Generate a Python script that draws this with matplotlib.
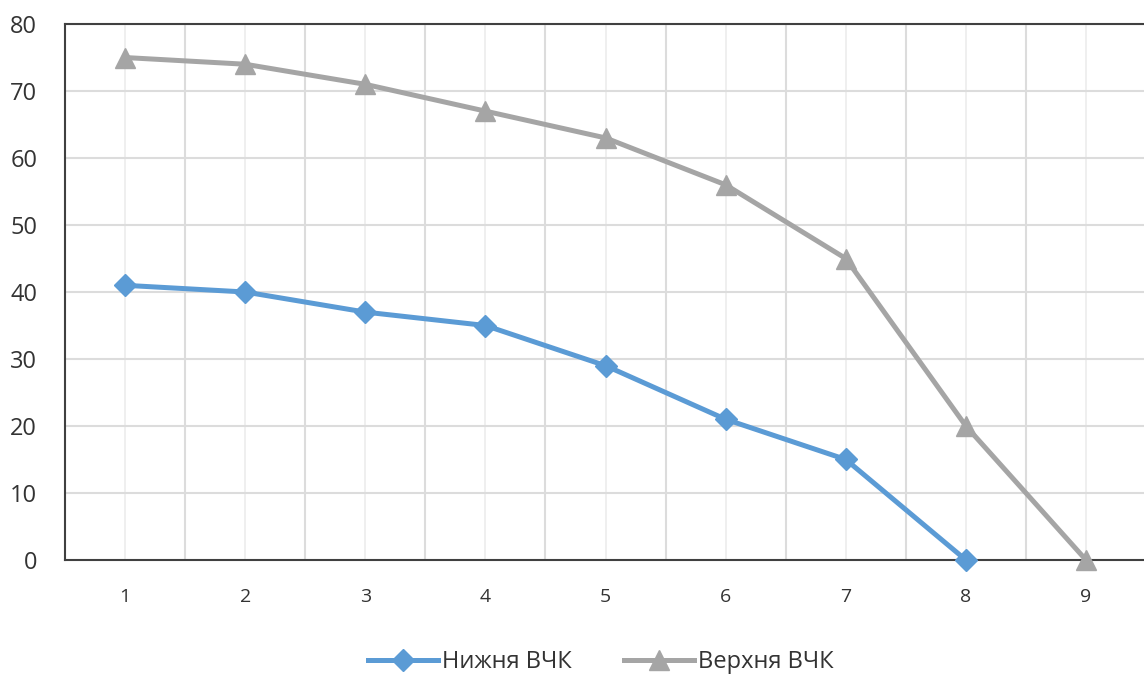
import matplotlib.pyplot as plt
import numpy as np

plt.rcParams['font.family'] = ['Open Sans', 'DejaVu Sans']

# дані з графіка
categories = [1, 2, 3, 4, 5, 6, 7, 8, 9]
lower_vals = [41, 40, 37, 35, 29, 21, 15, 0]
upper_vals = [75, 74, 71, 67, 63, 56, 45, 20, 0]
y_ticks = [0, 10, 20, 30, 40, 50, 60, 70, 80]

fig = plt.figure(figsize=(11.44, 6.75), dpi=100)
ax = fig.add_axes([0.0568, 0.1704, 0.9450, 0.7940])

x = np.array(categories)

# сітка: на категоріях і між ними
for xc in x:
    ax.axvline(xc, color='#ececec', lw=1.2, zorder=0)
for xb in x[:-1] + 0.5:
    ax.axvline(xb, color='#dcdcdc', lw=1.5, zorder=0)
for yt in y_ticks[1:]:
    ax.axhline(yt, color='#dcdcdc', lw=1.5, zorder=0)

ax.plot(x[:len(lower_vals)], lower_vals, color='#5B9BD5', lw=3.6,
        marker='D', markersize=11, label='Нижня ВЧК', zorder=3, clip_on=False)
ax.plot(x[:len(upper_vals)], upper_vals, color='#A5A5A5', lw=3.6,
        marker='^', markersize=14, label='Верхня ВЧК', zorder=3, clip_on=False)

ax.set_xlim(0.5, 9.5)
ax.set_ylim(0, 80)
ax.set_xticks(x)
ax.set_xticklabels([str(c) for c in categories], fontsize=14, color='#333333')
ax.set_yticks(y_ticks)
ax.set_yticklabels([str(v) for v in y_ticks], fontsize=17, color='#333333')
ax.tick_params(axis='x', length=0, pad=20)
ax.tick_params(axis='y', length=0, pad=20)

for side in ['left', 'top', 'bottom']:
    ax.spines[side].set_color('#404040')
    ax.spines[side].set_linewidth(1.5)
ax.spines['right'].set_visible(False)

fig.legend(loc='lower center', bbox_to_anchor=(0.525, -0.03), ncol=2,
           frameon=False, fontsize=17, handlelength=3.0, columnspacing=2.2,
           handletextpad=0.15, labelcolor='#333333')

fig.savefig('out.png', dpi=100)
